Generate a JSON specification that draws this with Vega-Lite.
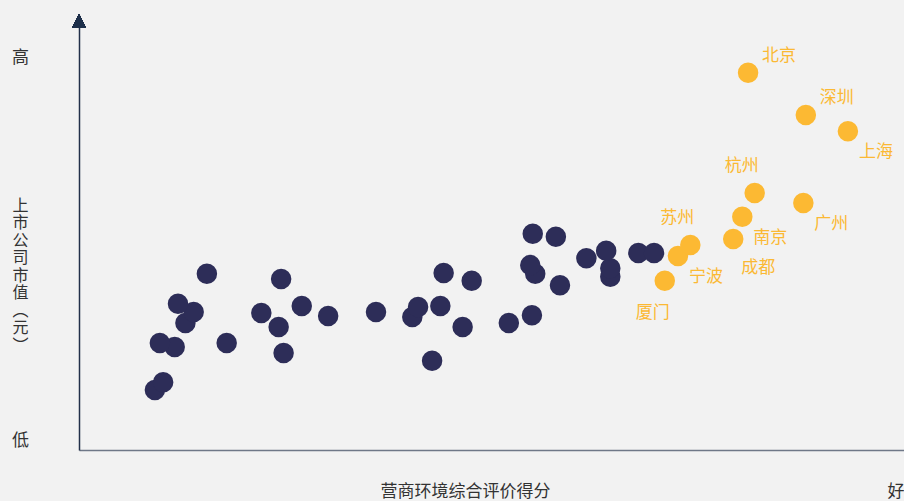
{
  "$schema": "https://vega.github.io/schema/vega-lite/v6.json",
  "width": 825,
  "height": 435,
  "autosize": "none",
  "padding": {"left": 79, "top": 15, "right": 0, "bottom": 51},
  "background": "#f2f2f2",
  "config": {"view": {"stroke": null}, "font": "Noto Sans CJK SC"},
  "datasets": {
    "cities": [
      {"city": "", "grp": "其他", "x": 9.2, "y": 13.8},
      {"city": "", "grp": "其他", "x": 10.2, "y": 15.6},
      {"city": "", "grp": "其他", "x": 9.8, "y": 24.6},
      {"city": "", "grp": "其他", "x": 11.6, "y": 23.7},
      {"city": "", "grp": "其他", "x": 12.0, "y": 33.6},
      {"city": "", "grp": "其他", "x": 13.9, "y": 31.7},
      {"city": "", "grp": "其他", "x": 12.9, "y": 29.2},
      {"city": "", "grp": "其他", "x": 15.5, "y": 40.5},
      {"city": "", "grp": "其他", "x": 17.9, "y": 24.6},
      {"city": "", "grp": "其他", "x": 22.1, "y": 31.5},
      {"city": "", "grp": "其他", "x": 24.5, "y": 39.3},
      {"city": "", "grp": "其他", "x": 24.2, "y": 28.3},
      {"city": "", "grp": "其他", "x": 24.8, "y": 22.3},
      {"city": "", "grp": "其他", "x": 27.0, "y": 33.1},
      {"city": "", "grp": "其他", "x": 30.2, "y": 30.8},
      {"city": "", "grp": "其他", "x": 36.0, "y": 31.7},
      {"city": "", "grp": "其他", "x": 40.4, "y": 30.6},
      {"city": "", "grp": "其他", "x": 41.1, "y": 32.9},
      {"city": "", "grp": "其他", "x": 42.8, "y": 20.5},
      {"city": "", "grp": "其他", "x": 43.8, "y": 33.1},
      {"city": "", "grp": "其他", "x": 44.2, "y": 40.7},
      {"city": "", "grp": "其他", "x": 46.5, "y": 28.3},
      {"city": "", "grp": "其他", "x": 47.6, "y": 38.9},
      {"city": "", "grp": "其他", "x": 52.1, "y": 29.2},
      {"city": "", "grp": "其他", "x": 54.9, "y": 31.0},
      {"city": "", "grp": "其他", "x": 55.0, "y": 49.7},
      {"city": "", "grp": "其他", "x": 57.8, "y": 49.0},
      {"city": "", "grp": "其他", "x": 54.7, "y": 42.5},
      {"city": "", "grp": "其他", "x": 55.3, "y": 40.5},
      {"city": "", "grp": "其他", "x": 58.3, "y": 37.9},
      {"city": "", "grp": "其他", "x": 61.5, "y": 44.1},
      {"city": "", "grp": "其他", "x": 63.9, "y": 45.8},
      {"city": "", "grp": "其他", "x": 64.4, "y": 41.8},
      {"city": "", "grp": "其他", "x": 64.4, "y": 39.8},
      {"city": "", "grp": "其他", "x": 67.8, "y": 45.3},
      {"city": "", "grp": "其他", "x": 69.7, "y": 45.3},
      {"city": "北京", "grp": "重点", "pos": "ne", "x": 81.1, "y": 86.7},
      {"city": "深圳", "grp": "重点", "pos": "ne", "x": 88.1, "y": 77.0},
      {"city": "上海", "grp": "重点", "pos": "se", "x": 93.2, "y": 73.3},
      {"city": "杭州", "grp": "重点", "pos": "nw", "x": 81.9, "y": 59.1},
      {"city": "广州", "grp": "重点", "pos": "se", "x": 87.8, "y": 56.8},
      {"city": "南京", "grp": "重点", "pos": "se", "x": 80.4, "y": 53.6},
      {"city": "成都", "grp": "重点", "pos": "s", "x": 79.3, "y": 48.5},
      {"city": "苏州", "grp": "重点", "pos": "nw", "x": 74.1, "y": 47.1},
      {"city": "宁波", "grp": "重点", "pos": "se", "x": 72.6, "y": 44.6},
      {"city": "厦门", "grp": "重点", "pos": "sw", "x": 71.0, "y": 38.9}
    ]
  },
  "data": {"name": "cities"},
  "layer": [
    {
      "mark": {"type": "point", "filled": true, "opacity": 1, "size": 420, "shape": "circle", "strokeWidth": 0},
      "encoding": {
        "x": {
          "field": "x", "type": "quantitative",
          "scale": {"domain": [0, 100], "nice": false, "zero": false},
          "axis": {
            "grid": false, "ticks": false, "tickSize": 0,
            "domainColor": "#6f7888", "domainWidth": 1.5,
            "values": [100], "labelExpr": "'好'", "labelAlign": "right",
            "labelBaseline": "middle", "labelPadding": 41, "labelFlush": false,
            "labelFontSize": 17, "labelColor": "#333333",
            "title": "营商环境综合评价得分", "titleFontSize": 17, "titleFontWeight": "normal",
            "titleColor": "#333333", "titleX": 386, "titleY": 41,
            "titleAlign": "center", "titleBaseline": "middle", "titleAnchor": null
          }
        },
        "y": {
          "field": "y", "type": "quantitative",
          "scale": {"domain": [0, 100], "nice": false, "zero": false},
          "axis": {
            "grid": false, "ticks": false, "tickSize": 0,
            "domainColor": "#22304a", "domainWidth": 1.5,
            "values": [2.07, 90.34], "labelExpr": "datum.value > 50 ? '高' : '低'",
            "labelAlign": "center", "labelBaseline": "middle", "labelPadding": 59,
            "labelFontSize": 17, "labelColor": "#333333",
            "title": ["上", "市", "公", "司", "市", "值", "︵", "元", "︶"],
            "titleAngle": 0, "titleFontSize": 16, "titleFontWeight": "normal",
            "titleColor": "#333333", "titleLineHeight": 17.5,
            "titleX": -59, "titleY": 190, "titleAlign": "center", "titleBaseline": "middle", "titleAnchor": null
          }
        },
        "color": {
          "field": "grp", "type": "nominal",
          "scale": {"domain": ["其他", "重点"], "range": ["#2d2d58", "#fcb933"]},
          "legend": null
        },
        "order": {"field": "y", "type": "quantitative"}
      }
    },
    {
      "mark": {"type": "point", "filled": true, "opacity": 1, "shape": "M-1,1L1,1L0,-1Z", "size": 196, "color": "#1d2f4a", "strokeWidth": 0},
      "encoding": {
        "x": {"datum": 0, "type": "quantitative"},
        "y": {"datum": 98.6, "type": "quantitative"}
      }
    },
    {
      "transform": [{"filter": "datum.pos == 'ne'"}],
      "mark": {"type": "text", "dx": 31, "dy": -17, "fontSize": 17, "color": "#fbb934", "align": "center", "baseline": "middle"},
      "encoding": {"x": {"field": "x", "type": "quantitative"}, "y": {"field": "y", "type": "quantitative"}, "text": {"field": "city"}}
    },
    {
      "transform": [{"filter": "datum.pos == 'se'"}],
      "mark": {"type": "text", "dx": 28, "dy": 21, "fontSize": 17, "color": "#fbb934", "align": "center", "baseline": "middle"},
      "encoding": {"x": {"field": "x", "type": "quantitative"}, "y": {"field": "y", "type": "quantitative"}, "text": {"field": "city"}}
    },
    {
      "transform": [{"filter": "datum.pos == 's'"}],
      "mark": {"type": "text", "dx": 25, "dy": 29, "fontSize": 17, "color": "#fbb934", "align": "center", "baseline": "middle"},
      "encoding": {"x": {"field": "x", "type": "quantitative"}, "y": {"field": "y", "type": "quantitative"}, "text": {"field": "city"}}
    },
    {
      "transform": [{"filter": "datum.pos == 'nw'"}],
      "mark": {"type": "text", "dx": -13, "dy": -27, "fontSize": 17, "color": "#fbb934", "align": "center", "baseline": "middle"},
      "encoding": {"x": {"field": "x", "type": "quantitative"}, "y": {"field": "y", "type": "quantitative"}, "text": {"field": "city"}}
    },
    {
      "transform": [{"filter": "datum.pos == 'sw'"}],
      "mark": {"type": "text", "dx": -12, "dy": 32, "fontSize": 17, "color": "#fbb934", "align": "center", "baseline": "middle"},
      "encoding": {"x": {"field": "x", "type": "quantitative"}, "y": {"field": "y", "type": "quantitative"}, "text": {"field": "city"}}
    }
  ]
}
